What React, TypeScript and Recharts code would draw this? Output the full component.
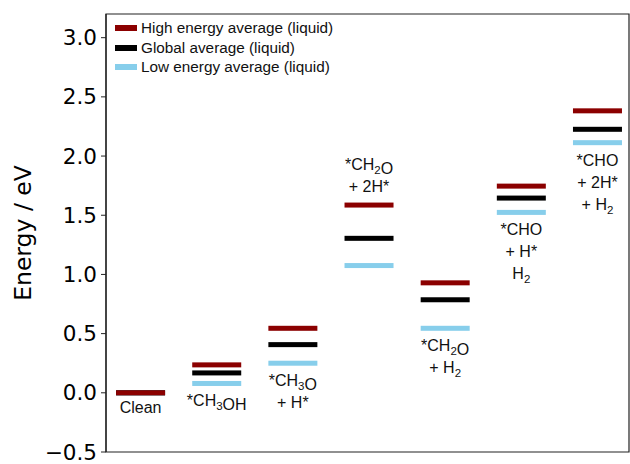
import React from 'react';
import { ComposedChart, Scatter, XAxis, YAxis, ReferenceArea, Legend, Label } from 'recharts';

// Reaction states (x categories)
const states = ['Clean', '*CH3OH', '*CH3O + H*', '*CH2O + 2H*', '*CH2O + H2', '*CHO + H* H2', '*CHO + 2H* + H2'];
// Energies (eV)
const highEnergy = [0.0, 0.236, 0.545, 1.586, 0.929, 1.746, 2.382];
const globalAvg = [0.0, 0.168, 0.407, 1.305, 0.786, 1.645, 2.226];
const lowEnergy = [0.0, 0.079, 0.25, 1.075, 0.545, 1.524, 2.113];
// Label lines ("_" marks a one-character subscript)
const labelLines = [
  ['Clean'],
  ['*CH_3OH'],
  ['*CH_3O', '+ H*'],
  ['*CH_2O', '+ 2H*'],
  ['*CH_2O', '+ H_2'],
  ['*CHO', '+ H*', 'H_2'],
  ['*CHO', '+ 2H*', '+ H_2'],
];
const labelAbove = [false, false, false, true, false, false, false];
const yTicks = [-0.5, 0, 0.5, 1.0, 1.5, 2.0, 2.5, 3.0];
const yTickLabels = ['\u22120.5', '0.0', '0.5', '1.0', '1.5', '2.0', '2.5', '3.0'];

const seriesNames = ['High energy average (liquid)', 'Global average (liquid)', 'Low energy average (liquid)'];
const seriesColors = ['#8b0000', '#000000', '#87ceeb'];

const X_MIN = -0.454;
const X_MAX = 6.414;
const Y_MIN = -0.5;
const Y_MAX = 3.2;

const toPoints = (vals: number[]) => vals.map((v, i) => ({ x: i, y: v, name: states[i] }));
const highData = toPoints(highEnergy);
const globalData = toPoints(globalAvg);
const lowData = toPoints(lowEnergy);
const labelData = states.map((s, i) => {
  const vals = [highEnergy[i], globalAvg[i], lowEnergy[i]];
  return { x: i, y: labelAbove[i] ? Math.max(...vals) : Math.min(...vals), idx: i };
});

const LevelShape = (props: any) => {
  const { cx, cy, fill } = props;
  if (cx == null || cy == null) return null;
  return <rect x={cx - 24.5} y={cy - 2.5} width={49} height={5} fill={fill} />;
};

const renderLine = (line: string) => {
  const parts: React.ReactNode[] = [];
  let buf = '';
  let k = 0;
  for (let i = 0; i < line.length; i++) {
    if (line[i] === '_' && i + 1 < line.length) {
      if (buf) parts.push(<tspan key={k++}>{buf}</tspan>);
      buf = '';
      parts.push(
        <tspan key={k++} dy={4} fontSize={11.5}>
          {line[i + 1]}
        </tspan>
      );
      parts.push(<tspan key={k++} dy={-4}>{''}</tspan>);
      i++;
    } else {
      buf += line[i];
    }
  }
  if (buf) parts.push(<tspan key={k++}>{buf}</tspan>);
  return parts;
};

const LabelShape = (props: any) => {
  const { cx, cy, payload } = props;
  if (cx == null || cy == null) return null;
  const idx = payload.idx;
  const lines = labelLines[idx];
  const above = labelAbove[idx];
  const spacing = 22;
  return (
    <g>
      {lines.map((ln, j) => {
        const y = above ? cy - 13 - (lines.length - 1 - j) * spacing : cy + (idx === 0 ? 20 : 23) + j * spacing;
        return (
          <text
            key={j}
            x={cx}
            y={y}
            textAnchor="middle"
            fontFamily="'Liberation Sans', Arial, sans-serif"
            fontSize={16}
            fill="#111"
          >
            {renderLine(ln)}
          </text>
        );
      })}
    </g>
  );
};

const LegendContent = () => (
  <div style={{ fontFamily: "'Liberation Sans', Arial, sans-serif", fontSize: 15.3, color: '#111', lineHeight: '19.7px' }}>
    {seriesNames.map((n, i) => (
      <div key={n} style={{ display: 'flex', alignItems: 'center', height: 19.7, whiteSpace: 'nowrap' }}>
        <span style={{ display: 'inline-block', width: 22, height: 6, background: seriesColors[i], marginRight: 4 }} />
        <span>{n}</span>
      </div>
    ))}
  </div>
);

const YLabel = (props: any) => {
  const vb = props.viewBox || { x: 0, y: 14, width: 106, height: 438 };
  const x = vb.x + 23;
  const y = vb.y + vb.height / 2;
  return (
    <text
      x={x}
      y={y}
      transform={`rotate(-90, ${x}, ${y})`}
      textAnchor="middle"
      dominantBaseline="central"
      fontFamily="'DejaVu Sans', sans-serif"
      fontSize={23.5}
      fill="#000"
    >
      Energy / eV
    </text>
  );
};

const YTick = (props: any) => {
  const { x, y, payload } = props;
  const i = yTicks.indexOf(payload.value);
  const txt = i >= 0 ? yTickLabels[i] : String(payload.value);
  return (
    <text
      x={x}
      y={y}
      textAnchor="end"
      dominantBaseline="central"
      fontFamily="'DejaVu Sans', sans-serif"
      fontSize={21.5}
      fill="#000"
    >
      {txt}
    </text>
  );
};

export default function App() {
  return (
    <div style={{ position: 'absolute', left: 0, top: 0, width: 630, height: 464, background: '#fff' }}>
      <ComposedChart width={630} height={464} margin={{ top: 14, right: 1, bottom: 12, left: 0 }}>
        <XAxis type="number" dataKey="x" domain={[X_MIN, X_MAX]} allowDataOverflow hide />
        <YAxis
          type="number"
          dataKey="y"
          domain={[Y_MIN, Y_MAX]}
          allowDataOverflow
          ticks={yTicks}
          interval={0}
          width={106}
          tickSize={5}
          tickMargin={4}
          axisLine={{ stroke: '#222', strokeWidth: 1.2 }}
          tickLine={{ stroke: '#222', strokeWidth: 1 }}
          tick={<YTick />}
        >
          <Label content={<YLabel />} />
        </YAxis>
        <ReferenceArea
          x1={X_MIN}
          x2={X_MAX}
          y1={Y_MIN}
          y2={Y_MAX}
          fill="none"
          fillOpacity={0}
          stroke="#222"
          strokeWidth={1.2}
        />
        <Scatter name={seriesNames[2]} data={lowData} fill={seriesColors[2]} shape={<LevelShape />} isAnimationActive={false} />
        <Scatter name={seriesNames[1]} data={globalData} fill={seriesColors[1]} shape={<LevelShape />} isAnimationActive={false} />
        <Scatter name={seriesNames[0]} data={highData} fill={seriesColors[0]} shape={<LevelShape />} isAnimationActive={false} />
        <Scatter name="labels" data={labelData} fill="#111" shape={<LabelShape />} legendType="none" isAnimationActive={false} />
        <Legend
          layout="vertical"
          align="center"
          verticalAlign="middle"
          content={<LegendContent />}
          wrapperStyle={{ left: 115, top: 18, width: 300, height: 60 }}
        />
      </ComposedChart>
    </div>
  );
}
